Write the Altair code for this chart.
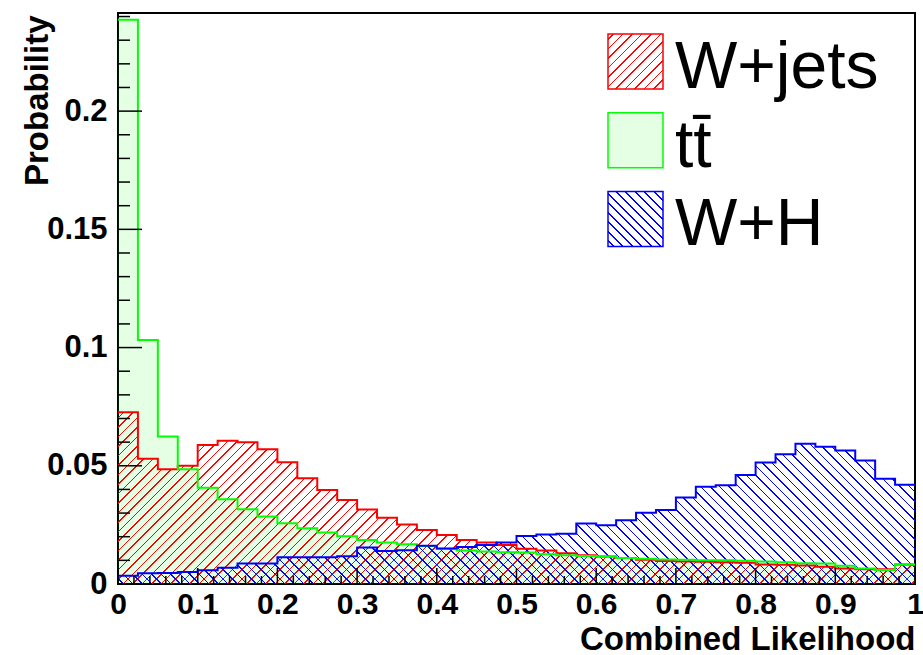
import altair as alt
import pandas as pd

# ---------------- data ----------------
N_BINS = 40
X_MIN, X_MAX = 0.0, 1.0
Y_MAX = 0.2415

wjets = [0.0726, 0.0530, 0.0485, 0.0500, 0.0588, 0.0606, 0.0599, 0.0570, 0.0515, 0.0447,
         0.0398, 0.0355, 0.0315, 0.0280, 0.0252, 0.0228, 0.0207, 0.0186, 0.0175, 0.0165,
         0.0149, 0.0142, 0.0130, 0.0122, 0.0116, 0.0110, 0.0103, 0.0097, 0.0095, 0.0094,
         0.0092, 0.0090, 0.0083, 0.0081, 0.0078, 0.0073, 0.0066, 0.0062, 0.0062, 0.0083]
ttbar = [0.2386, 0.1032, 0.0624, 0.0485, 0.0407, 0.0358, 0.0316, 0.0285, 0.0257, 0.0236,
         0.0218, 0.0202, 0.0186, 0.0176, 0.0168, 0.0161, 0.0149, 0.0142, 0.0137, 0.0134,
         0.0133, 0.0126, 0.0122, 0.0118, 0.0116, 0.0110, 0.0107, 0.0104, 0.0103, 0.0100,
         0.0100, 0.0098, 0.0095, 0.0092, 0.0088, 0.0087, 0.0077, 0.0066, 0.0059, 0.0082]
wh = [0.0035, 0.0045, 0.0046, 0.0051, 0.0058, 0.0069, 0.0087, 0.0087, 0.0113, 0.0113,
      0.0113, 0.0117, 0.0154, 0.0140, 0.0143, 0.0162, 0.0150, 0.0156, 0.0165, 0.0175,
      0.0203, 0.0209, 0.0213, 0.0256, 0.0249, 0.0270, 0.0301, 0.0313, 0.0366, 0.0411,
      0.0418, 0.0461, 0.0514, 0.0549, 0.0593, 0.0581, 0.0565, 0.0522, 0.0445, 0.0420]

series_names = ["W+jets", "t t\u0304".replace(" ", ""), "W+H"]

x_major = [0, 0.1, 0.2, 0.3, 0.4, 0.5, 0.6, 0.7, 0.8, 0.9, 1.0]
x_minor = [0.02, 0.04, 0.06, 0.08, 0.12, 0.14, 0.16, 0.18, 0.22, 0.24, 0.26, 0.28,
           0.32, 0.34, 0.36, 0.38, 0.42, 0.44, 0.46, 0.48, 0.52, 0.54, 0.56, 0.58,
           0.62, 0.64, 0.66, 0.68, 0.72, 0.74, 0.76, 0.78, 0.82, 0.84, 0.86, 0.88,
           0.92, 0.94, 0.96, 0.98]
y_major = [0, 0.05, 0.1, 0.15, 0.2]
y_minor = [0.01, 0.02, 0.03, 0.04, 0.06, 0.07, 0.08, 0.09, 0.11, 0.12, 0.13, 0.14,
           0.16, 0.17, 0.18, 0.19, 0.21, 0.22, 0.23, 0.24]

# ---------------- layout / style ----------------
PLOT_W, PLOT_H = 797, 571
FONT = "Liberation Sans"
RED, GREEN, BLUE = (255, 0, 0), (0, 255, 0), (0, 0, 255)
GREEN_FILL_OPACITY = 0.1
HATCH_PERIOD, HATCH_WIDTH = 9.5, 1.7


def rgb(c, a=None):
    if a is None:
        return "rgb(%d,%d,%d)" % c
    return "rgba(%d,%d,%d,%g)" % (c[0], c[1], c[2], a)


def hatch(color, W, H, direction="/"):
    """Linear gradient made of hard stops -> diagonal hatch lines."""
    period, width = HATCH_PERIOD, HATCH_WIDTH
    T = W + H
    clear, solid = rgb(color, 0), rgb(color)
    stops = [alt.GradientStop(offset=0, color=clear)]
    pos = period / 2.0
    while pos + width < T:
        s, e = round(pos / T, 6), round((pos + width) / T, 6)
        stops += [alt.GradientStop(offset=s, color=clear),
                  alt.GradientStop(offset=s, color=solid),
                  alt.GradientStop(offset=e, color=solid),
                  alt.GradientStop(offset=e, color=clear)]
        pos += period
    stops.append(alt.GradientStop(offset=1, color=clear))
    lam = T / (W * W + H * H)
    a, b = lam * W, lam * H
    if direction == "/":
        return alt.Gradient(gradient="linear", stops=stops, x1=0, y1=0, x2=a, y2=b)
    return alt.Gradient(gradient="linear", stops=stops, x1=0, y1=1, x2=a, y2=1 - b)


def px(v):
    return v * PLOT_H / Y_MAX


# ---------------- table ----------------
rows = []
for name, vals in zip(series_names, [wjets, ttbar, wh]):
    for i in range(N_BINS + 1):
        rows.append({"series": name,
                     "x": X_MIN + (X_MAX - X_MIN) * i / N_BINS,
                     "v": vals[min(i, N_BINS - 1)]})
df = pd.DataFrame(rows)

xs = alt.Scale(domain=[X_MIN, X_MAX], nice=False, zero=False)
ys = alt.Scale(domain=[0, Y_MAX], nice=False)

xaxis = alt.Axis(values=x_major, format="~g", ticks=False, domain=False, grid=False,
                 labelFont=FONT, labelFontWeight="bold", labelFontSize=30,
                 labelColor="black", labelPadding=5, labelFlush=False, labelOverlap=False,
                 title="Combined Likelihood", titleFont=FONT, titleFontWeight="bold",
                 titleFontSize=33, titleColor="black", titleAlign="right",
                 titleAnchor="end", titleX=PLOT_W, titleY=65, titleBaseline="alphabetic")
yaxis = alt.Axis(values=y_major, format="~g", ticks=False, domain=False, grid=False,
                 labelFont=FONT, labelFontWeight="bold", labelFontSize=31,
                 labelColor="black", labelPadding=11, labelFlush=False, labelOverlap=False,
                 title="Probability", titleFont=FONT, titleFontWeight="bold",
                 titleFontSize=33, titleColor="black", titleAngle=270,
                 titleAlign="right", titleAnchor="end", titleX=-71, titleY=2,
                 titleBaseline="alphabetic")

X = alt.X("x:Q", scale=xs, axis=xaxis)
Y = alt.Y("v:Q", scale=ys, axis=yaxis)

base = alt.Chart(df)

green_area = base.transform_filter(alt.datum.series == series_names[1]).mark_area(
    interpolate="step-after", fill=rgb(GREEN), fillOpacity=GREEN_FILL_OPACITY).encode(x=X, y=Y)
red_area = base.transform_filter(alt.datum.series == series_names[0]).mark_area(
    interpolate="step-after",
    fill=hatch(RED, PLOT_W, px(max(wjets)), direction="/")).encode(x=X, y=Y)
blue_area = base.transform_filter(alt.datum.series == series_names[2]).mark_area(
    interpolate="step-after",
    fill=hatch(BLUE, PLOT_W, px(max(wh)), direction="\\")).encode(x=X, y=Y)

lines = []
for name, col in zip(series_names, ["#ff0000", "#00ff00", "#0000ff"]):
    lines.append(base.transform_filter(alt.datum.series == name).mark_line(
        interpolate="step-after", color=col, strokeWidth=2).encode(x=X, y=Y))

# inward tick marks (ROOT style)
xt = alt.X("t:Q", scale=xs, axis=xaxis)
yt = alt.Y("t:Q", scale=ys, axis=yaxis)
xmaj = alt.Chart(pd.DataFrame({"t": x_major})).mark_rule(color="black", strokeWidth=1.5).encode(
    x=xt, y=alt.value(PLOT_H), y2=alt.value(PLOT_H - 16))
xmin_ = alt.Chart(pd.DataFrame({"t": x_minor})).mark_rule(color="black", strokeWidth=1.5).encode(
    x=xt, y=alt.value(PLOT_H), y2=alt.value(PLOT_H - 8))
ymaj = alt.Chart(pd.DataFrame({"t": y_major})).mark_rule(color="black", strokeWidth=1.5).encode(
    y=yt, x=alt.value(0), x2=alt.value(24))
ymin_ = alt.Chart(pd.DataFrame({"t": y_minor})).mark_rule(color="black", strokeWidth=1.5).encode(
    y=yt, x=alt.value(0), x2=alt.value(12))

# legend
LX, LW, LY0, LSTEP, LH = 490, 55, 21, 78.7, 55
leg_fill = [hatch(RED, LW, LH, direction="/"), rgb(GREEN, GREEN_FILL_OPACITY),
            hatch(BLUE, LW, LH, direction="\\")]
leg_stroke = ["#ff0000", "#00ff00", "#0000ff"]
legend_layers = []
for k, name in enumerate(series_names):
    d = pd.DataFrame({"name": [name]})
    y0 = LY0 + k * LSTEP
    legend_layers.append(alt.Chart(d).mark_rect(
        fill=leg_fill[k], stroke=leg_stroke[k], strokeWidth=1.5).encode(
        x=alt.value(LX), x2=alt.value(LX + LW), y=alt.value(y0), y2=alt.value(y0 + LH)))
    legend_layers.append(alt.Chart(d).mark_text(
        font=FONT, fontSize=66, align="left", baseline="alphabetic", color="black").encode(
        text="name:N", x=alt.value(557), y=alt.value(y0 + 54)))

chart = alt.layer(
    green_area, red_area, blue_area, *lines, xmaj, xmin_, ymaj, ymin_, *legend_layers
).properties(
    width=PLOT_W, height=PLOT_H,
    padding={"left": 118, "top": 13, "right": 8, "bottom": 71},
    autosize=alt.AutoSizeParams(type="none"),
    background="white",
).configure_view(stroke="black", strokeWidth=2)

chart.save("out.html", embed_options={"renderer": "svg", "actions": False})
